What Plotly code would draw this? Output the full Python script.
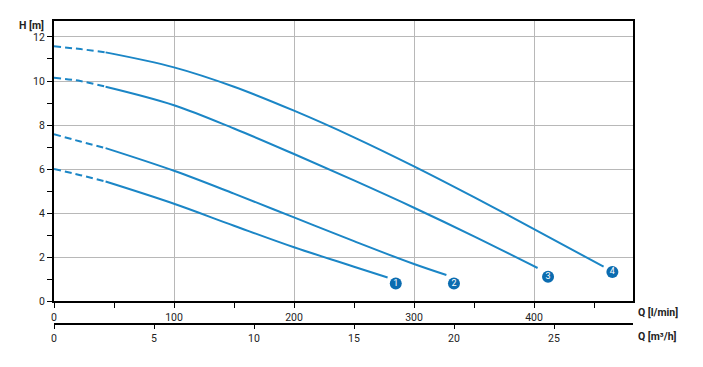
import plotly.graph_objects as go

# ---- data ----
# dashed start segment (Q 0..43) and solid part (Q 43..end), l/min vs m
q_dash = [0, 22, 43]
h1_dash = [6.0, 5.72, 5.43]
h2_dash = [7.58, 7.25, 6.95]
h3_dash = [10.15, 10.0, 9.74]
h4_dash = [11.58, 11.45, 11.3]

q1 = [43, 100, 150, 200, 250, 278]
h1 = [5.43, 4.42, 3.42, 2.44, 1.56, 1.07]

q2 = [43, 100, 150, 200, 250, 300, 327]
h2 = [6.95, 5.92, 4.88, 3.8, 2.72, 1.68, 1.18]

q3 = [43, 100, 150, 200, 250, 300, 350, 403]
h3 = [9.74, 8.9, 7.84, 6.68, 5.48, 4.24, 2.94, 1.5]

q4 = [43, 100, 150, 200, 250, 300, 350, 400, 458]
h4 = [11.3, 10.62, 9.74, 8.65, 7.44, 6.12, 4.72, 3.27, 1.56]

dashed = [(q_dash, h1_dash), (q_dash, h2_dash), (q_dash, h3_dash), (q_dash, h4_dash)]
solid = [(q1, h1), (q2, h2), (q3, h3), (q4, h4)]

label_text = ["1", "2", "3", "4"]
label_q = [284.8, 333.3, 411.7, 465.3]
label_h = [0.80, 0.80, 1.10, 1.32]

q_max = 482.5          # l/min
h_max = 12.727         # m
m3h_per_lmin = 0.06
q_m3_max = q_max * m3h_per_lmin

LINE = "#1b86c6"
MARK = "#0b6cb0"
GRID = "#b8b8b8"
TXT = "#222222"
FONT = "Roboto"

fig = go.Figure()
for (qd, hd), (qs, hs) in zip(dashed, solid):
    fig.add_trace(go.Scatter(x=qd, y=hd, mode="lines",
                             line=dict(color=LINE, width=2, dash="7px,4px",
                                       shape="spline", smoothing=1.0),
                             hoverinfo="skip", showlegend=False))
    fig.add_trace(go.Scatter(x=qs, y=hs, mode="lines",
                             line=dict(color=LINE, width=2,
                                       shape="spline", smoothing=1.0),
                             hoverinfo="skip", showlegend=False))

fig.add_trace(go.Scatter(x=label_q, y=label_h, mode="markers+text",
                         text=label_text, textposition="middle center",
                         textfont=dict(family=FONT, size=9, color="white"),
                         marker=dict(size=12, color=MARK),
                         hoverinfo="skip", showlegend=False))

# invisible trace for the secondary (m3/h) axis
fig.add_trace(go.Scatter(x=[0, q_m3_max], y=[None, None], xaxis="x2", yaxis="y",
                         mode="lines", hoverinfo="skip", showlegend=False))

top, bottom_axis2, bottom_plot = 21, 324, 301
H = 367
paper_h = bottom_axis2 - top
dom0 = (bottom_axis2 - bottom_plot) / paper_h

axis_font = dict(family=FONT, size=10.5, color=TXT)

fig.update_layout(
    width=703, height=367,
    margin=dict(l=54, r=70, t=top, b=H - bottom_axis2, pad=0),
    paper_bgcolor="white", plot_bgcolor="white",
    xaxis=dict(range=[0, q_max], dtick=100, tick0=0, showgrid=True,
               gridcolor=GRID, gridwidth=1, zeroline=False,
               showline=True, linecolor="black", linewidth=2, mirror=True,
               ticks="outside", ticklen=5, tickwidth=1, tickcolor="black",
               minor=dict(dtick=50, tick0=0, ticks="outside", ticklen=5,
                          tickwidth=1, tickcolor="black", showgrid=False),
               tickfont=axis_font, anchor="y"),
    yaxis=dict(range=[0, h_max], dtick=2, tick0=0, showgrid=True,
               gridcolor=GRID, gridwidth=1, zeroline=False,
               showline=True, linecolor="black", linewidth=2, mirror=True,
               ticks="outside", ticklen=5, tickwidth=1, tickcolor="black",
               minor=dict(dtick=1, tick0=0, ticks="outside", ticklen=5,
                          tickwidth=1, tickcolor="black", showgrid=False),
               tickfont=axis_font, domain=[dom0, 1]),
    xaxis2=dict(range=[0, q_m3_max], dtick=5, tick0=0, overlaying="x",
                anchor="free", position=0, side="bottom",
                showgrid=False, zeroline=False,
                showline=True, linecolor="black", linewidth=2,
                ticks="outside", ticklen=4, tickwidth=1, tickcolor="black",
                tickfont=axis_font),
    font=dict(family=FONT, color=TXT),
)

pw = 703 - 54 - 70
def px(x):
    return (x - 54) / pw
def py(y):
    return (bottom_axis2 - y) / paper_h

ann_font = dict(family=FONT, size=10.5, color=TXT)
fig.add_annotation(text="<b>H [m]</b>", xref="paper", yref="paper",
                   x=px(46), y=py(25), xanchor="right", yanchor="middle",
                   showarrow=False, font=ann_font)
fig.add_annotation(text="<b>Q [l/min]</b>", xref="paper", yref="paper",
                   x=px(636), y=py(312), xanchor="left", yanchor="middle",
                   showarrow=False, font=ann_font)
fig.add_annotation(text="<b>Q [m³/h]</b>", xref="paper", yref="paper",
                   x=px(636), y=py(336), xanchor="left", yanchor="middle",
                   showarrow=False, font=ann_font)

fig.write_html("out.html")
